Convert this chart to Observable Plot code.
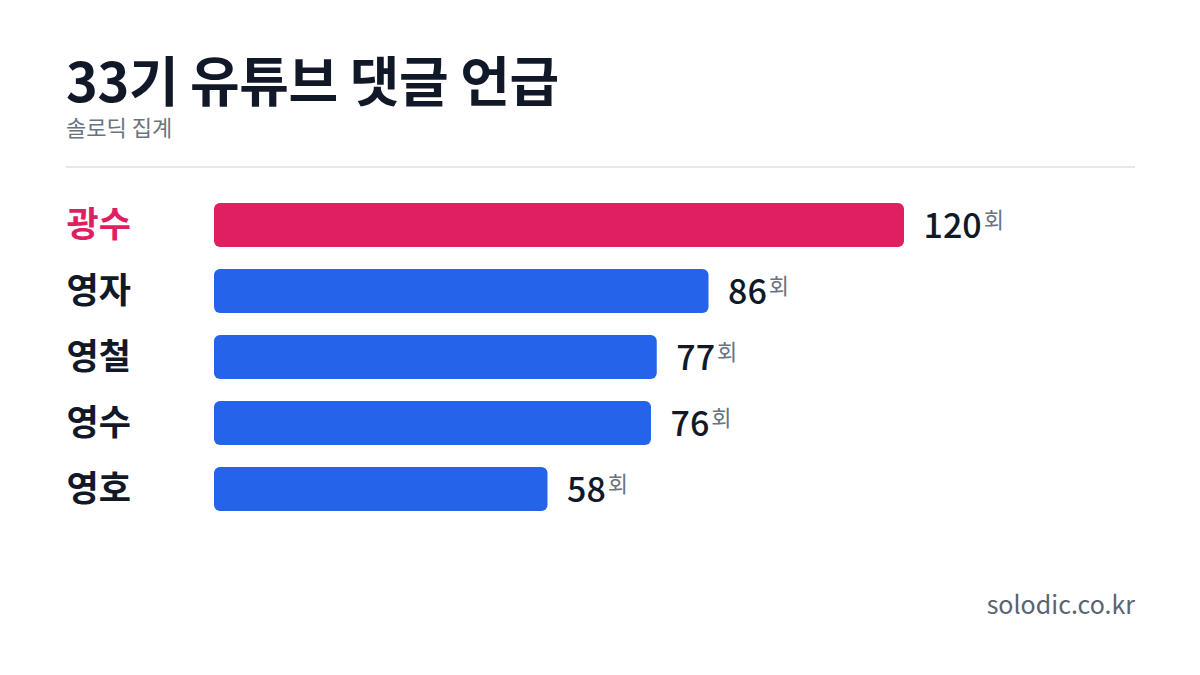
<!DOCTYPE html>
<html>
<head>
<meta charset="utf-8">
<script src="https://cdn.jsdelivr.net/npm/d3@7"></script>
<script src="https://cdn.jsdelivr.net/npm/@observablehq/plot@0.6"></script>
<style>
  html, body { margin: 0; padding: 0; background: #ffffff; }
  body { width: 1200px; height: 675px; position: relative; overflow: hidden;
         font-family: "Noto Sans CJK KR", "Noto Sans", sans-serif; }
  #title { position: absolute; left: 66px; top: 52px; font-size: 54px; font-weight: 700;
           color: #111827; line-height: 1; letter-spacing: -0.4px; }
  #subtitle { position: absolute; left: 66px; top: 115px; font-size: 22px; font-weight: 400;
              color: #6b7280; line-height: 1; }
  #divider { position: absolute; left: 66px; width: 1069px; top: 166px; height: 2px; background: #e5e7eb; }
  #chart { position: absolute; left: 0; top: 180px; }
  #footer { position: absolute; right: 65px; top: 591px; font-size: 25px; color: #5b6272; line-height: 1; }
</style>
</head>
<body>
<div id="title">33기 유튜브 댓글 언급</div>
<div id="subtitle">솔로딕 집계</div>
<div id="divider"></div>
<div id="chart"></div>
<div id="footer">solodic.co.kr</div>
<script>
const names = ["광수", "영자", "영철", "영수", "영호"];
const counts = [120, 86, 77, 76, 58];
const highlight = "광수";
const unit = "회";

const data = names.map((name, i) => ({ name, count: counts[i] }));

const pink = "#e01e62";
const blue = "#2563eb";
const dark = "#111827";

const chart = Plot.plot({
  width: 1200,
  height: 351,
  marginLeft: 214,
  marginRight: 296,
  marginTop: 23,
  marginBottom: 20,
  style: { fontFamily: '"Noto Sans CJK KR", "Noto Sans", sans-serif', background: "transparent" },
  x: { domain: [0, 120], axis: null },
  y: { domain: names, axis: null, paddingInner: 1 / 3, paddingOuter: 0 },
  marks: [
    Plot.barX(data, { x: "count", y: "name", fill: d => d.name === highlight ? pink : blue, rx: 6 }),
    Plot.text(data, {
      y: "name", frameAnchor: "left", dx: -148, textAnchor: "start",
      text: "name", fontSize: 35, fontWeight: 700,
      fill: d => d.name === highlight ? pink : dark
    }),
    Plot.text(data, {
      x: "count", y: "name", dx: 19, dy: 2, textAnchor: "start",
      text: d => String(d.count), fontSize: 34, fontWeight: 500, fill: dark
    })
  ]
});

document.getElementById("chart").appendChild(chart);

const groups = chart.querySelectorAll('g[aria-label="text"]');
const valueGroup = groups[groups.length - 1];
d3.select(valueGroup).selectAll("text").each(function () {
  d3.select(this).append("tspan")
    .attr("dx", 2)
    .attr("dy", -10)
    .attr("font-size", 22)
    .attr("font-weight", 400)
    .attr("fill", "#6b7280")
    .text(unit);
});
</script>
</body>
</html>
